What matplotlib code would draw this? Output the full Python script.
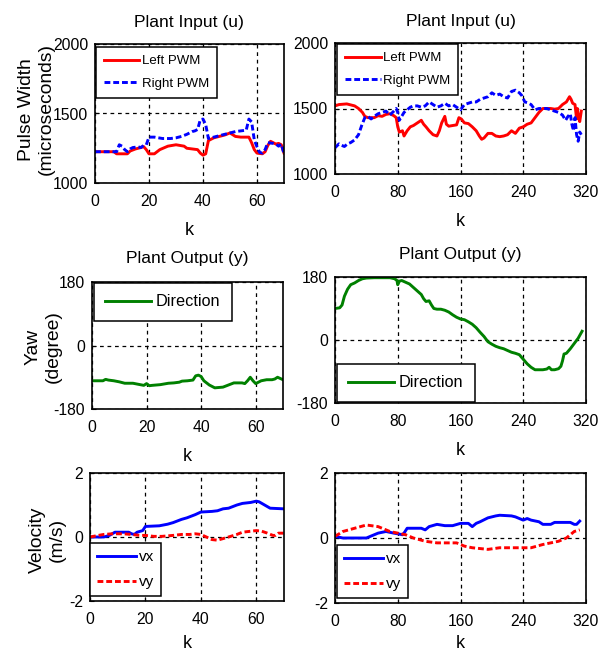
import matplotlib
matplotlib.use("Agg")
import matplotlib.pyplot as plt

plt.rcParams['font.family'] = ['Liberation Sans', 'DejaVu Sans']
plt.rcParams['axes.unicode_minus'] = False

# ---------------- data ----------------
# Plant input, short run (k 0..70)
k_u1_left = [0, 7, 8, 12, 13, 15, 17, 18, 19, 20, 22, 24, 27, 30, 33, 34, 36, 38, 39, 40, 41, 42, 44, 46, 48, 50, 52, 54, 57, 58, 59, 60, 62, 63, 64, 65, 67, 68, 69, 70]
u1_left = [1225, 1225, 1210, 1210, 1230, 1245, 1255, 1262, 1240, 1210, 1210, 1240, 1265, 1275, 1265, 1250, 1245, 1240, 1215, 1200, 1210, 1305, 1325, 1335, 1345, 1360, 1335, 1330, 1330, 1290, 1240, 1215, 1210, 1225, 1270, 1300, 1280, 1285, 1275, 1215]
k_u1_right = [0, 8, 9, 10, 11, 12, 13, 14, 16, 17, 18, 19, 20, 22, 25, 28, 30, 32, 34, 36, 37, 38, 39, 40, 41, 42, 44, 46, 48, 50, 52, 54, 56, 57, 58, 59, 60, 61, 62, 63, 64, 66, 67, 68, 69, 70]
u1_right = [1225, 1225, 1275, 1265, 1240, 1225, 1245, 1255, 1260, 1255, 1270, 1275, 1330, 1330, 1320, 1320, 1325, 1335, 1350, 1370, 1375, 1385, 1455, 1460, 1420, 1320, 1330, 1340, 1350, 1360, 1370, 1375, 1380, 1460, 1440, 1310, 1260, 1220, 1215, 1240, 1290, 1285, 1280, 1265, 1280, 1210]

# Plant input, long run (k 0..315)
k_u2_left = [0, 5, 15, 25, 30, 35, 38, 42, 50, 55, 60, 65, 70, 75, 78, 80, 82, 86, 88, 92, 96, 100, 105, 110, 113, 116, 120, 125, 130, 133, 136, 140, 142, 145, 150, 155, 158, 161, 165, 170, 175, 180, 184, 187, 190, 195, 200, 205, 210, 215, 220, 225, 230, 235, 240, 245, 250, 255, 260, 265, 270, 275, 280, 285, 290, 295, 299, 301, 303, 306, 308, 309, 310, 312, 314]
u2_left = [1520, 1530, 1535, 1520, 1500, 1470, 1440, 1430, 1430, 1445, 1440, 1455, 1460, 1445, 1430, 1360, 1320, 1330, 1290, 1330, 1360, 1370, 1390, 1410, 1380, 1360, 1330, 1300, 1290, 1330, 1390, 1440, 1380, 1365, 1370, 1375, 1430, 1420, 1390, 1385, 1360, 1330, 1290, 1265, 1275, 1310, 1310, 1290, 1285, 1290, 1300, 1330, 1310, 1350, 1360, 1380, 1390, 1430, 1470, 1500, 1500, 1500, 1495, 1500, 1530, 1550, 1590, 1570, 1540, 1530, 1420, 1500, 1450, 1400, 1480]
k_u2_right = [0, 5, 8, 12, 16, 20, 25, 30, 34, 38, 42, 46, 50, 55, 60, 65, 70, 75, 78, 80, 82, 85, 88, 92, 96, 100, 105, 110, 115, 120, 125, 130, 135, 140, 145, 150, 155, 160, 165, 170, 175, 180, 185, 190, 195, 200, 205, 210, 215, 220, 225, 230, 235, 238, 242, 245, 250, 255, 260, 265, 270, 275, 280, 285, 290, 294, 297, 300, 302, 304, 306, 308, 310, 312, 314]
u2_right = [1200, 1230, 1220, 1210, 1230, 1240, 1260, 1300, 1370, 1430, 1440, 1420, 1440, 1460, 1470, 1480, 1450, 1480, 1500, 1470, 1410, 1440, 1470, 1490, 1510, 1520, 1520, 1510, 1520, 1550, 1530, 1510, 1520, 1540, 1520, 1530, 1510, 1490, 1530, 1540, 1550, 1550, 1570, 1580, 1590, 1620, 1600, 1610, 1590, 1580, 1630, 1640, 1620, 1600, 1550, 1545, 1530, 1490, 1500, 1500, 1500, 1490, 1480, 1470, 1450, 1410, 1440, 1460, 1380, 1330, 1430, 1300, 1250, 1320, 1300]

# Plant output (yaw)
k_y1 = [0, 4, 5, 6, 8, 10, 12, 15, 17, 19, 20, 21, 22, 25, 28, 30, 32, 33, 35, 37, 38, 39, 40, 41, 43, 45, 48, 50, 52, 55, 56, 57, 58, 59, 60, 61, 62, 64, 66, 67, 68, 70]
yaw1 = [-100, -100, -96, -98, -100, -103, -107, -107, -110, -113, -108, -114, -113, -111, -107, -106, -104, -101, -100, -98, -86, -84, -88, -100, -112, -120, -118, -112, -106, -106, -108, -100, -90, -100, -108, -104, -100, -97, -97, -95, -90, -97]
k_y2 = [0, 6, 9, 12, 16, 20, 25, 30, 35, 40, 50, 60, 70, 76, 79, 80, 82, 85, 90, 95, 100, 105, 110, 113, 116, 120, 123, 126, 130, 135, 140, 145, 150, 155, 160, 165, 170, 175, 180, 185, 190, 195, 200, 205, 210, 215, 220, 225, 230, 235, 240, 245, 250, 255, 260, 265, 270, 273, 276, 280, 285, 288, 290, 292, 295, 300, 305, 310, 315]
yaw2 = [90, 92, 100, 125, 145, 158, 163, 170, 175, 177, 178, 178, 178, 175, 170, 158, 168, 170, 165, 160, 150, 140, 130, 118, 110, 112, 100, 90, 88, 88, 85, 80, 72, 65, 60, 58, 52, 45, 35, 22, 10, -5, -12, -18, -22, -25, -30, -35, -38, -42, -55, -68, -78, -85, -85, -85, -83, -78, -85, -85, -82, -75, -60, -40, -38, -25, -10, 5, 25]

# Velocity
k_v1x = [0, 5, 7, 8, 9, 14, 15, 16, 17, 19, 20, 25, 28, 30, 33, 35, 38, 40, 44, 46, 48, 50, 53, 55, 58, 60, 61, 62, 64, 65, 70]
vx1 = [0, 0, 0.05, 0.1, 0.15, 0.15, 0.1, 0.08, 0.15, 0.2, 0.33, 0.35, 0.4, 0.45, 0.55, 0.6, 0.7, 0.78, 0.8, 0.82, 0.88, 0.9, 1.0, 1.05, 1.08, 1.12, 1.1, 1.05, 0.95, 0.9, 0.88]
k_v1y = [0, 3, 5, 8, 12, 15, 18, 20, 23, 26, 30, 33, 36, 38, 40, 42, 44, 46, 48, 50, 53, 55, 58, 60, 62, 64, 66, 67, 68, 70]
vy1 = [0, 0.05, 0.08, 0.1, 0.1, 0.08, 0.05, 0.05, 0.02, 0.02, 0.05, 0.08, 0.08, 0.1, 0.08, 0.0, -0.08, -0.1, -0.05, 0.0, 0.08, 0.15, 0.18, 0.2, 0.18, 0.12, 0.05, 0.05, 0.12, 0.12]
k_v2x = [0, 10, 40, 45, 55, 65, 75, 82, 86, 88, 92, 110, 115, 120, 130, 140, 150, 160, 170, 175, 180, 185, 195, 205, 210, 225, 230, 240, 245, 250, 260, 265, 275, 280, 300, 305, 308, 312]
vx2 = [0.05, 0, 0, 0.05, 0.15, 0.2, 0.15, 0.12, 0.1, 0.15, 0.3, 0.3, 0.25, 0.35, 0.42, 0.38, 0.38, 0.45, 0.45, 0.35, 0.45, 0.5, 0.62, 0.68, 0.7, 0.68, 0.65, 0.55, 0.6, 0.55, 0.5, 0.42, 0.42, 0.48, 0.48, 0.42, 0.42, 0.52]
k_v2y = [0, 10, 25, 40, 55, 70, 80, 90, 100, 115, 130, 155, 165, 175, 195, 210, 250, 265, 285, 295, 305, 312]
vy2 = [0.05, 0.2, 0.3, 0.4, 0.35, 0.2, 0.15, 0.1, 0.0, -0.1, -0.15, -0.15, -0.25, -0.3, -0.35, -0.3, -0.3, -0.2, -0.1, 0.0, 0.2, 0.25]

xticks_short = [0, 20, 40, 60]
xticks_long = [0, 80, 160, 240, 320]
yticks_u = [1000, 1500, 2000]
yticks_yaw = [-180, 0, 180]
yticks_v = [-2, 0, 2]

# ---------------- figure ----------------
W, H = 607, 657
fig = plt.figure(figsize=(W / 100, H / 100), dpi=100)


def add_ax(l, r, t, b):
    return fig.add_axes([l / W, 1 - b / H, (r - l) / W, (b - t) / H])


RED = '#ff0000'
BLUE = '#0000ff'
GREEN = '#008000'
LW = 2.1
DASH = (2.0, 1.0)
TICK_FS = 11.3
TITLE_FS = 12.6
YLAB_FS = 13.9


def style(ax, xlim, xticks, ylim, yticks, klabelpad=9):
    ax.set_xlim(*xlim)
    ax.set_ylim(*ylim)
    ax.set_xticks(xticks)
    ax.set_yticks(yticks)
    ax.tick_params(direction='in', length=3, labelsize=TICK_FS)
    ax.tick_params(axis='x', pad=8)
    ax.tick_params(axis='y', pad=5)
    ax.grid(True, color='black', linestyle=(0, (3, 3)), linewidth=0.9)
    ax.set_axisbelow(True)
    for s in ax.spines.values():
        s.set_linewidth(1.2)
        s.set_color('black')
    ax.set_xlabel('k', fontsize=13, labelpad=klabelpad)


def legend(ax, x, y, fs, **kw):
    opts = dict(loc='upper left', bbox_to_anchor=(x, y), fontsize=fs, frameon=True,
                fancybox=False, framealpha=1, edgecolor='black', borderaxespad=0,
                handletextpad=0.2)
    opts.update(kw)
    lg = ax.legend(**opts)
    lg.get_frame().set_linewidth(1.1)
    return lg


def ylabel(ax, text, x, y):
    ax.set_ylabel(text, fontsize=YLAB_FS, linespacing=1.25)
    ax.yaxis.set_label_coords(x, y)


# top-left
ax = add_ax(95, 284, 44, 183)
ax.plot(k_u1_left, u1_left, color=RED, lw=LW, label='Left PWM')
ax.plot(k_u1_right, u1_right, color=BLUE, lw=LW, linestyle='--', dashes=DASH, label='Right PWM')
style(ax, (0, 70), xticks_short, (1000, 2000), yticks_u)
ax.set_title('Plant Input (u)', fontsize=TITLE_FS, pad=12)
ylabel(ax, 'Pulse Width\n(microseconds)', -0.212, 0.53)
legend(ax, 0.005, 0.978, 9.5, handlelength=2.7, labelspacing=0.8, borderpad=0.6)

# top-right
ax = add_ax(335, 586, 43, 174)
ax.plot(k_u2_left, u2_left, color=RED, lw=LW, label='Left PWM')
ax.plot(k_u2_right, u2_right, color=BLUE, lw=LW, linestyle='--', dashes=DASH, label='Right PWM')
style(ax, (0, 320), xticks_long, (1000, 2000), yticks_u)
ax.set_title('Plant Input (u)', fontsize=TITLE_FS, pad=12)
legend(ax, 0.008, 0.992, 9.5, handlelength=2.7, labelspacing=0.8, borderpad=0.6)

# mid-left
ax = add_ax(92, 283, 282, 409)
ax.plot(k_y1, yaw1, color=GREEN, lw=LW, label='Direction')
style(ax, (0, 70), xticks_short, (-180, 180), yticks_yaw)
ax.set_title('Plant Output (y)', fontsize=TITLE_FS, pad=14)
ylabel(ax, 'Yaw\n(degree)', -0.16, 0.49)
legend(ax, 0.01, 0.992, 11.7, handlelength=2.8, borderpad=0.7, handletextpad=0.3)

# mid-right
ax = add_ax(335, 586, 277, 403)
ax.plot(k_y2, yaw2, color=GREEN, lw=LW, label='Direction')
style(ax, (0, 320), xticks_long, (-180, 180), yticks_yaw)
ax.set_title('Plant Output (y)', fontsize=TITLE_FS, pad=13)
legend(ax, 0.008, 0.31, 11.7, handlelength=2.8, borderpad=0.7, handletextpad=0.3)

# bottom-left
ax = add_ax(90, 284, 473, 601)
ax.plot(k_v1x, vx1, color=BLUE, lw=LW, label='vx')
ax.plot(k_v1y, vy1, color=RED, lw=LW, linestyle='--', dashes=DASH, label='vy')
style(ax, (0, 70), xticks_short, (-2, 2), yticks_v, klabelpad=6)
ylabel(ax, 'Velocity\n(m/s)', -0.125, 0.48)
legend(ax, 0.0, 0.453, 11, handlelength=2.5, labelspacing=0.7, borderpad=0.48)

# bottom-right
ax = add_ax(335, 586, 473, 603)
ax.plot(k_v2x, vx2, color=BLUE, lw=LW, label='vx')
ax.plot(k_v2y, vy2, color=RED, lw=LW, linestyle='--', dashes=DASH, label='vy')
style(ax, (0, 320), xticks_long, (-2, 2), yticks_v, klabelpad=4)
legend(ax, 0.008, 0.446, 11, handlelength=2.5, labelspacing=0.7, borderpad=0.48)

fig.savefig('out.png', dpi=100, facecolor='white')
